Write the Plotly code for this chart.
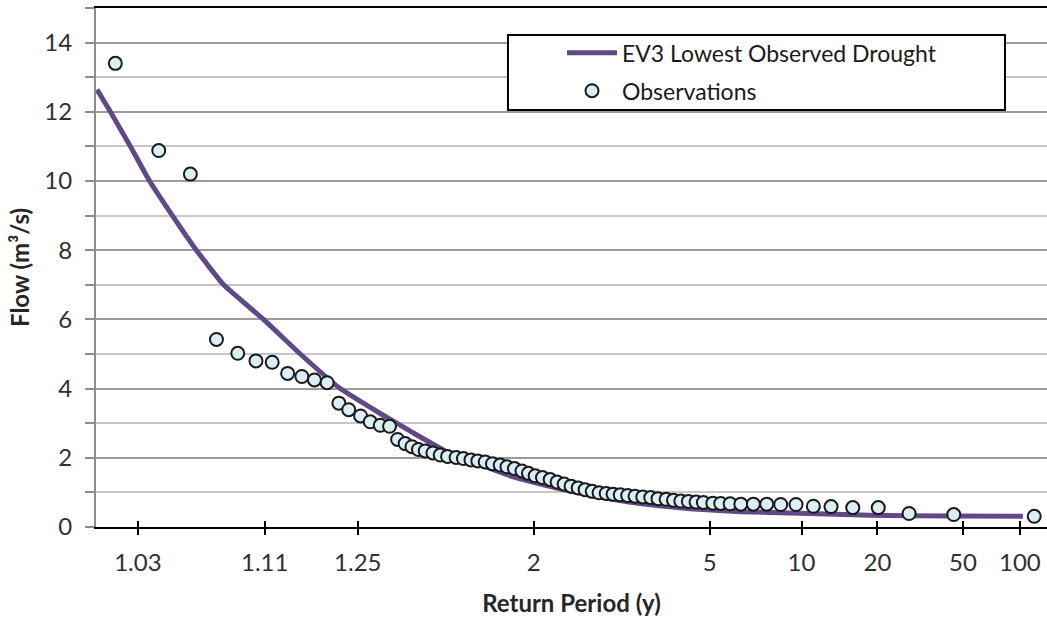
from statistics import NormalDist
import plotly.graph_objects as go

# Return-period ticks shown on the normal-probability x axis
tick_periods = [1.03, 1.11, 1.25, 2, 5, 10, 20, 50, 100]
tick_labels = ["1.03", "1.11", "1.25", "2", "5", "10", "20", "50", "100"]

# EV3 fitted low-flow curve: return period (y) and flow (m3/s)
curve_T = [1.0187, 1.0219, 1.0276, 1.0342, 1.0438, 1.0563, 1.0741, 1.1088,
           1.1522, 1.2157, 1.3012, 1.3933, 1.5139, 1.6638, 1.8552, 2.2248,
           2.5408, 3.2748, 4.4010, 6.1889, 9.870, 18.59, 43.12, 103.9]
curve_Q = [12.64, 12.0, 11.0, 10.0, 9.0, 8.0, 7.0, 6.0,
           5.0, 4.0, 3.28, 2.72, 2.17, 1.80, 1.45, 1.10,
           0.92, 0.68, 0.53, 0.44, 0.40, 0.34, 0.32, 0.31]

# Observed annual minimum flows with their plotting-position return periods
obs_T = [1.0232, 1.0378, 1.0529, 1.0690, 1.0851, 1.1013, 1.1179, 1.1358, 1.1543, 1.1725,
         1.1927, 1.2131, 1.2317, 1.2560, 1.2773, 1.3012, 1.3249, 1.3468, 1.3686, 1.3893,
         1.4100, 1.4325, 1.4597, 1.4868, 1.5156, 1.5511, 1.5833, 1.6184, 1.6521, 1.6900,
         1.7298, 1.7743, 1.8152, 1.8633, 1.9146, 1.9608, 2.0113, 2.0695, 2.1345, 2.1959,
         2.2624, 2.3310, 2.4056, 2.4826, 2.5660, 2.6518, 2.7450, 2.8409, 2.9464, 3.0637,
         3.1867, 3.3245, 3.4758, 3.6245, 3.8008, 3.9714, 4.1545, 4.3554, 4.5746, 4.7985,
         5.1099, 5.3937, 5.7604, 6.2189, 6.8213, 7.5529, 8.4317, 9.5511, 11.06, 12.92,
         15.77, 20.16, 27.6, 45.0, 120.3]
obs_Q = [13.4, 10.88, 10.2, 5.42, 5.02, 4.80, 4.76, 4.44, 4.35, 4.25,
         4.17, 3.58, 3.39, 3.21, 3.04, 2.94, 2.91, 2.53, 2.41, 2.32,
         2.24, 2.20, 2.14, 2.08, 2.04, 2.01, 1.98, 1.94, 1.91, 1.88,
         1.83, 1.79, 1.74, 1.69, 1.62, 1.55, 1.48, 1.43, 1.37, 1.30,
         1.24, 1.18, 1.13, 1.08, 1.03, 0.99, 0.97, 0.95, 0.93, 0.91,
         0.89, 0.87, 0.85, 0.82, 0.80, 0.77, 0.75, 0.74, 0.72, 0.71,
         0.69, 0.68, 0.67, 0.66, 0.66, 0.66, 0.65, 0.65, 0.60, 0.59,
         0.56, 0.56, 0.39, 0.36, 0.31]

_nd = NormalDist()


def reduced_variate(T):
    """Standard normal quantile of the non-exceedance probability 1 - 1/T."""
    return _nd.inv_cdf(1.0 - 1.0 / T)


FONT = "Lato, 'Open Sans', sans-serif"
PURPLE = "#5f4a87"

fig = go.Figure()
fig.add_trace(go.Scatter(
    x=[reduced_variate(t) for t in curve_T], y=curve_Q,
    mode="lines", name="EV3 Lowest Observed Drought",
    line=dict(color=PURPLE, width=5, shape="spline", smoothing=0.4),
    legendgroup="a",
))
fig.add_trace(go.Scatter(
    x=[reduced_variate(t) for t in obs_T], y=obs_Q,
    mode="markers", name="Observations",
    marker=dict(size=13, color="#daeef3", line=dict(color="#1a1a1a", width=2)),
    legendgroup="b",
))

tick_z = [reduced_variate(t) for t in tick_periods]

fig.update_xaxes(
    range=[-2.094, 2.456],
    tickmode="array", tickvals=tick_z, ticktext=tick_labels,
    ticks="outside", ticklen=6, tickwidth=2, tickcolor="black",
    minor=dict(tickmode="array", tickvals=tick_z, ticks="inside",
               ticklen=6, tickwidth=2, tickcolor="black", showgrid=False),
    showgrid=False, zeroline=False,
    showline=True, linecolor="black", linewidth=2, mirror=True,
    tickfont=dict(family=FONT, size=24, color="#303030"),
    ticklabelstandoff=7,
    title=dict(text="<b>Return Period (y)</b>",
               font=dict(family=FONT, size=24, color="#262626"), standoff=20),
)
fig.update_yaxes(
    range=[0, 15],
    tickmode="array", tickvals=[0, 2, 4, 6, 8, 10, 12, 14],
    ticks="outside", ticklen=9, tickwidth=2, tickcolor="#8c8c8c",
    showgrid=True, gridcolor="#9c9c9c", gridwidth=2,
    minor=dict(dtick=1, ticks="outside", ticklen=9, tickwidth=2,
               tickcolor="#8c8c8c", showgrid=True, gridcolor="#c6c6c6", gridwidth=2),
    zeroline=False,
    showline=True, linecolor="#8c8c8c", linewidth=2,
    tickfont=dict(family=FONT, size=24, color="#303030"),
    ticklabelstandoff=8,
    title=dict(text="<b>Flow (m³/s)</b>",
               font=dict(family=FONT, size=24, color="#262626"), standoff=8),
)

# Legend frame
fig.add_shape(type="rect", xref="paper", yref="paper",
              x0=0.4332, x1=0.9558, y0=0.8035, y1=0.948,
              line=dict(color="black", width=2), fillcolor="white", layer="above")

fig.update_layout(
    width=1047, height=622,
    margin=dict(l=96, r=0, t=8, b=95),
    paper_bgcolor="white", plot_bgcolor="white",
    showlegend=True,
    legend=dict(
        x=0.490, y=0.955, xanchor="left", yanchor="top",
        bgcolor="rgba(0,0,0,0)", borderwidth=0,
        font=dict(family=FONT, size=23, color="#1a1a1a"),
        itemwidth=50, traceorder="grouped", tracegroupgap=5,
    ),
)

fig.write_html("out.html")
